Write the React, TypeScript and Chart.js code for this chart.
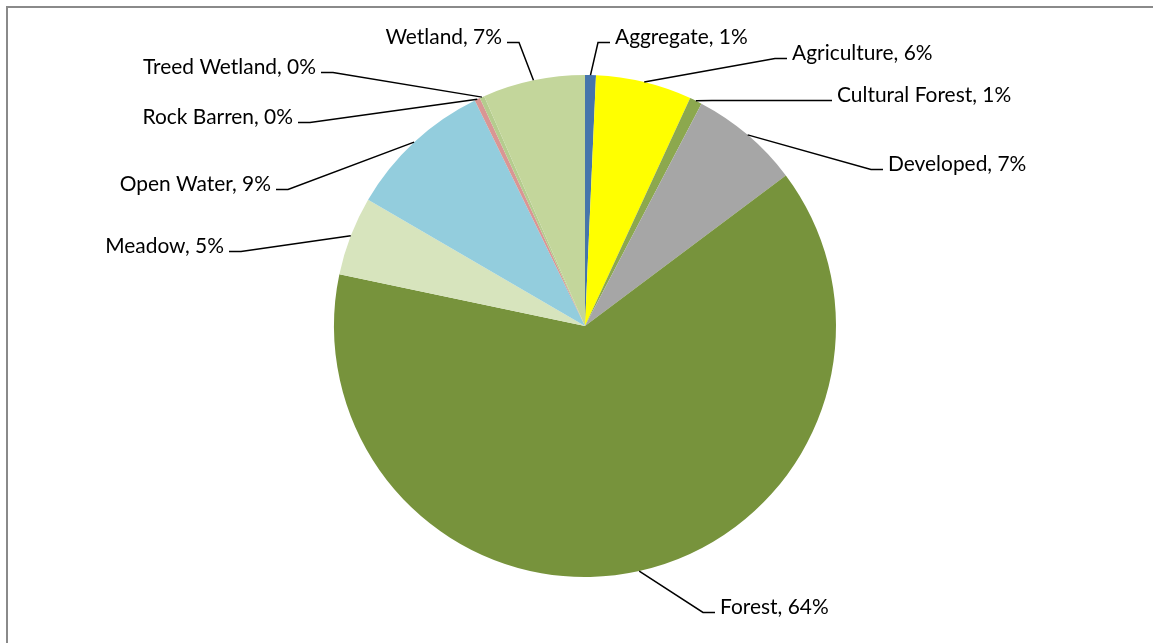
import React, { useEffect, useRef } from "react";
import { Chart, registerables } from "chart.js";

Chart.register(...registerables);

const categories: string[] = [
  "Aggregate",
  "Agriculture",
  "Cultural Forest",
  "Developed",
  "Forest",
  "Meadow",
  "Open Water",
  "Rock Barren",
  "Treed Wetland",
  "Wetland",
];

const shares: number[] = [0.7, 6.2, 0.8, 7.1, 63.7, 5.1, 9.4, 0.35, 0.3, 6.6];

const sliceColors: string[] = [
  "#4675AB",
  "#FFFF00",
  "#8CA84E",
  "#A6A6A6",
  "#77933C",
  "#D7E4BD",
  "#93CDDD",
  "#D99694",
  "#B5CC8E",
  "#C3D69B",
];

// label layout: text edge x, baseline y, side of the text relative to its leader
const labelLayout: { x: number; y: number; side: "r" | "l"; elbow?: number }[] = [
  { x: 615, y: 44, side: "r" },
  { x: 792, y: 60, side: "r" },
  { x: 837, y: 102, side: "r", elbow: 120 },
  { x: 888, y: 171, side: "r" },
  { x: 720, y: 614, side: "r" },
  { x: 224, y: 253, side: "l" },
  { x: 271, y: 191, side: "l" },
  { x: 293, y: 124, side: "l" },
  { x: 316, y: 74, side: "l" },
  { x: 502, y: 44, side: "l" },
];

const W = 1153;
const H = 643;

export default function App() {
  const ref = useRef<HTMLCanvasElement | null>(null);

  useEffect(() => {
    const canvas = ref.current;
    if (!canvas) return;
    const total = shares.reduce((a, b) => a + b, 0);

    const framePlugin = {
      id: "frame",
      beforeDraw(chart: any) {
        const ctx = chart.ctx;
        ctx.save();
        ctx.fillStyle = "#ffffff";
        ctx.fillRect(0, 0, W, H);
        ctx.fillStyle = "#8a8a8a";
        ctx.fillRect(6, 6, W - 6, 2);
        ctx.fillRect(6, 6, 2, H - 6);
        ctx.restore();
      },
    };

    const labelPlugin = {
      id: "leaderLabels",
      afterDatasetsDraw(chart: any) {
        const ctx = chart.ctx;
        const meta = chart.getDatasetMeta(0);
        ctx.save();
        ctx.font = "20px Lato";
        const w0 = ctx.measureText("Treed Wetland, 0%").width;
        const fs = (20 * 173) / w0;
        ctx.font = `${fs.toFixed(2)}px Lato`;
        ctx.fillStyle = "#000000";
        ctx.strokeStyle = "#000000";
        ctx.lineWidth = 1.5;
        ctx.textBaseline = "alphabetic";
        meta.data.forEach((arc: any, i: number) => {
          const p = arc.getProps(["x", "y", "startAngle", "endAngle", "outerRadius"], true);
          const mid = (p.startAngle + p.endAngle) / 2;
          const ax = p.x + Math.cos(mid) * p.outerRadius;
          const ay = p.y + Math.sin(mid) * p.outerRadius;
          const L = labelLayout[i];
          const tailLen = L.elbow ?? 12;
          const ly = L.y - 1.5;
          const sign = L.side === "r" ? -1 : 1;
          const tailEnd = L.x + sign * 5;
          const elbowX = tailEnd + sign * tailLen;
          ctx.beginPath();
          ctx.moveTo(ax, ay);
          ctx.lineTo(elbowX, ly);
          ctx.lineTo(tailEnd, ly);
          ctx.stroke();
          const pct = Math.round((shares[i] / total) * 100);
          const text = `${categories[i]}, ${pct}%`;
          ctx.textAlign = L.side === "r" ? "left" : "right";
          ctx.fillText(text, L.x, L.y);
        });
        ctx.restore();
      },
    };

    const chart = new Chart(canvas, {
      type: "pie",
      data: {
        labels: categories,
        datasets: [
          {
            data: shares,
            backgroundColor: sliceColors,
            borderWidth: 0,
          },
        ],
      },
      options: {
        animation: false,
        responsive: false,
        devicePixelRatio: 1,
        layout: { padding: { left: 334, right: W - 836, top: 75, bottom: H - 577 } },
        plugins: {
          legend: { display: false },
          tooltip: { enabled: false },
          title: { display: false },
        },
      },
      plugins: [framePlugin, labelPlugin],
    });
    return () => chart.destroy();
  }, []);

  return (
    <div style={{ position: "fixed", left: 0, top: 0, width: W, height: H, background: "#fff" }}>
      <canvas ref={ref} width={W} height={H} style={{ display: "block", width: W, height: H }} />
    </div>
  );
}
